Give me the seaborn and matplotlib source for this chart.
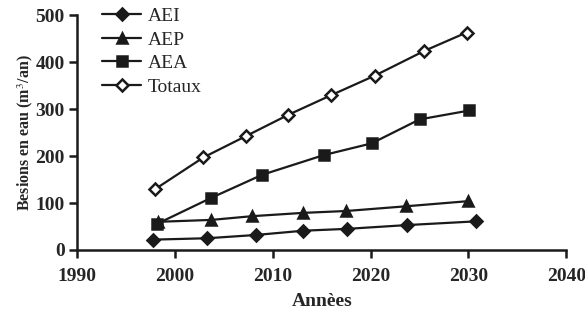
import pandas as pd
import matplotlib.pyplot as plt
import seaborn as sns

# données
annees_aei = [1997.7, 2003.3, 2008.3, 2013.1, 2017.6, 2023.7, 2030.8]
aei = [22, 25, 32, 41, 45, 53, 61]

annees_aep = [1998.3, 2003.7, 2007.9, 2013.1, 2017.5, 2023.6, 2030.0]
aep = [60, 64, 72, 79, 83, 93, 104]

annees_aea = [1998.2, 2003.7, 2008.9, 2015.2, 2020.1, 2025.0, 2030.1]
aea = [56, 111, 160, 202, 227, 278, 297]

annees_tot = [1998.0, 2002.9, 2007.3, 2011.6, 2015.9, 2020.4, 2025.5, 2029.8]
totaux = [130, 197, 243, 288, 329, 371, 424, 463]

sns.set_style('ticks')
plt.rcParams['font.family'] = ['Liberation Serif', 'DejaVu Serif']
plt.rcParams['mathtext.fontset'] = 'stix'

fig = plt.figure(figsize=(5.85, 3.09), dpi=100)
ax = fig.add_axes([0.132, 0.191, 0.836, 0.76])

col = '#1a1a1a'
series = [
    ('AEI', annees_aei, aei, 'D', col, 6.5),
    ('AEP', annees_aep, aep, '^', col, 7),
    ('AEA', annees_aea, aea, 's', col, 7),
    ('Totaux', annees_tot, totaux, 'D', 'white', 6.5),
]
for nom, x, y, m, fc, ms in series:
    df = pd.DataFrame({'x': x, 'y': y})
    sns.lineplot(data=df, x='x', y='y', ax=ax, color=col, lw=1.6,
                 marker=m, markersize=ms,
                 markerfacecolor=fc, markeredgecolor=col, markeredgewidth=1.8,
                 label=nom)

ax.set_xlim(1990, 2040)
ax.set_ylim(0, 500)
ax.set_xticks([1990, 2000, 2010, 2020, 2030, 2040])
ax.set_yticks([0, 100, 200, 300, 400, 500])
ax.tick_params(direction='out', length=6, width=1.8, labelsize=14, color=col)
ax.tick_params(axis='x', pad=7)
ax.tick_params(axis='y', pad=3)
for lab in ax.get_xticklabels() + ax.get_yticklabels():
    lab.set_fontweight('bold')
for s in ['left', 'bottom']:
    ax.spines[s].set_linewidth(1.8)
    ax.spines[s].set_color(col)
sns.despine(ax=ax)

ax.set_xlabel('Annèes', fontsize=14, fontweight='bold', labelpad=6)
ax.set_ylabel('Besions en eau (m$^3$/an)', fontsize=11.5, fontweight='bold', labelpad=0)

leg = ax.legend(loc='upper left', bbox_to_anchor=(0.035, 1.065), frameon=False,
                fontsize=14, handlelength=2.0, handletextpad=0.35,
                labelspacing=0.3, borderaxespad=0)

fig.savefig('out.png', dpi=100)
